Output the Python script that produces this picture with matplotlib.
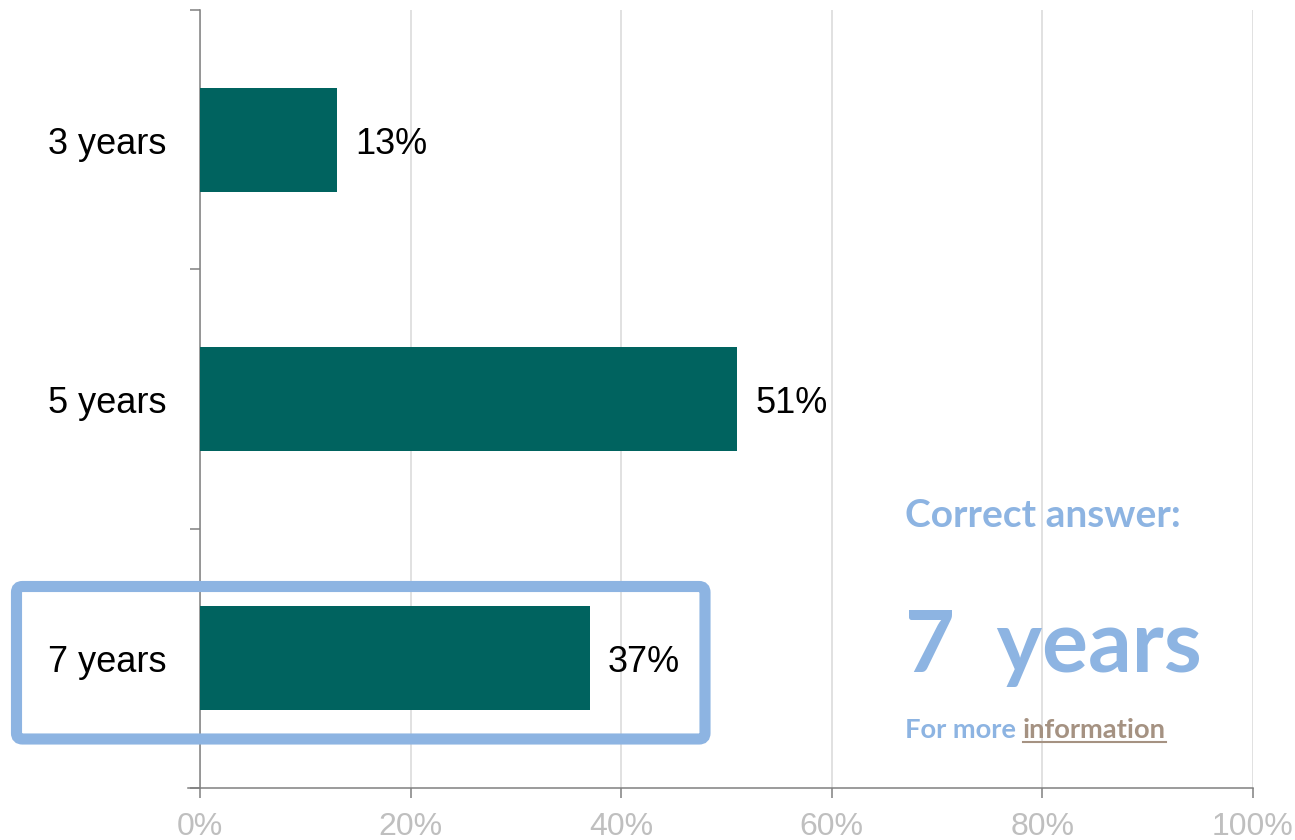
import matplotlib
matplotlib.use('Agg')
import matplotlib.pyplot as plt
from matplotlib.patches import FancyBboxPatch
from matplotlib.transforms import IdentityTransform
from matplotlib.lines import Line2D

categories = ['3 years', '5 years', '7 years']
shares = [13, 51, 37]
x_ticks = [0, 20, 40, 60, 80, 100]
x_tick_labels = ['0%', '20%', '40%', '60%', '80%', '100%']

BAR = '#00635f'
BLUE = '#8db4e2'
LINK = '#a59282'

plt.rcParams['font.family'] = ['Liberation Sans', 'DejaVu Sans']

fig = plt.figure(figsize=(12.95, 8.4), dpi=100)
W, H = 1295, 840
ax = fig.add_axes([200 / W, (H - 788) / H, 1053 / W, 778 / H])

pos = list(range(len(categories)))
ax.barh(pos, shares, height=0.4, color=BAR, zorder=3)
# labels sit with their baseline ~14px below the bar centre
for p, v, c in zip(pos, shares, categories):
    ax.annotate(f'{v}%', xy=(v, p), xytext=(13, -10), textcoords='offset points',
                ha='left', va='baseline', fontsize=26, color='black')
    ax.annotate(c, xy=(0, p), xycoords=('axes fraction', 'data'), xytext=(-24, -10),
                textcoords='offset points', ha='right', va='baseline',
                fontsize=26, color='black', annotation_clip=False)

ax.set_xlim(0, 100)
ax.set_ylim(2.5, -0.5)
ax.set_xticks(x_ticks)
ax.set_xticklabels(x_tick_labels, fontsize=23, color='#bfbfbf')
ax.set_yticks([-0.5, 0.5, 1.5, 2.5])
ax.set_yticklabels([])
ax.tick_params(axis='y', length=7.5, width=1.1, color='#808080', direction='out')
ax.tick_params(axis='x', length=7, width=1.1, color='#808080', direction='out', pad=10)
ax.grid(axis='x', color='#d9d9d9', linewidth=1.1, zorder=0)
for s in ['top', 'right']:
    ax.spines[s].set_visible(False)
for s in ['left', 'bottom']:
    ax.spines[s].set_color('#808080')
    ax.spines[s].set_linewidth(1.1)
ax.spines['bottom'].set_bounds(-1.15, 100)

# highlight box around the correct answer (pixel coords, origin bottom-left)
box = FancyBboxPatch((16.5, H - 739), 705 - 16.5, 739 - 586.5,
                     boxstyle='round,pad=0,rounding_size=6',
                     transform=IdentityTransform(), fill=False,
                     edgecolor=BLUE, linewidth=8, clip_on=False, zorder=5)
fig.patches.append(box)

callout = ['Lato', 'DejaVu Sans']
fig.text(905 / W, (H - 527) / H, 'Correct answer:', fontsize=28, fontweight='bold',
         color=BLUE, family=callout, va='baseline', ha='left')
fig.text(905 / W, (H - 672) / H, '7  years', fontsize=62, fontweight='bold',
         color=BLUE, family=callout, va='baseline', ha='left')
t1 = fig.text(905 / W, (H - 738) / H, 'For more ', fontsize=19.7, fontweight='bold',
              color=BLUE, family=callout, va='baseline', ha='left')
fig.canvas.draw()
r = fig.canvas.get_renderer()
bb = t1.get_window_extent(r)
t2 = fig.text(bb.x1 / W, (H - 738) / H, 'information', fontsize=19.7, fontweight='bold',
              color=LINK, family=callout, va='baseline', ha='left')
fig.canvas.draw()
bb2 = t2.get_window_extent(r)
fig.add_artist(Line2D([bb2.x0, bb2.x1], [H - 742, H - 742], color=LINK,
                      linewidth=1.5, transform=IdentityTransform()))

fig.savefig('out.png', dpi=100)
